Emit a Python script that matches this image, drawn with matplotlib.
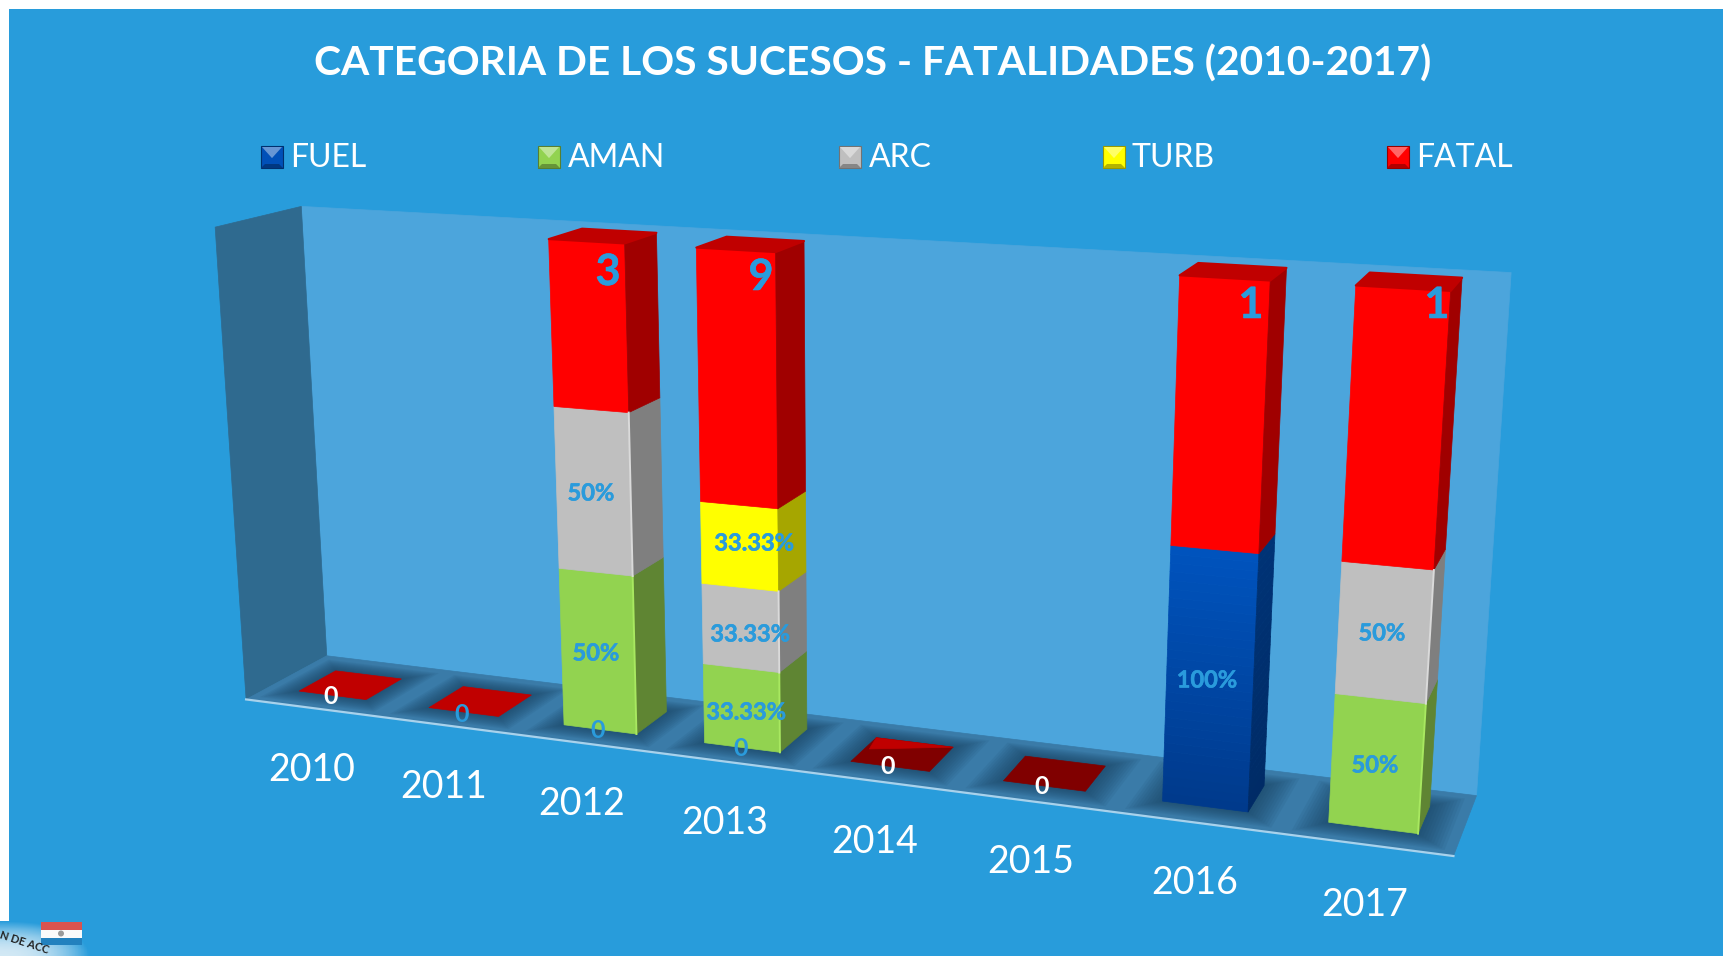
import numpy as np
import matplotlib
matplotlib.use('Agg')
import matplotlib.pyplot as plt
import matplotlib.patheffects as pe
from matplotlib.patches import Polygon, Rectangle, Circle
from matplotlib.colors import to_rgb, LinearSegmentedColormap

YEARS = ['2010', '2011', '2012', '2013', '2014', '2015', '2016', '2017']
SERIES = ['FUEL', 'AMAN', 'ARC', 'TURB', 'FATAL']
FUEL = [0, 0, 0, 0, 0, 0, 100, 0]
AMAN = [0, 0, 50, 33.33, 0, 0, 0, 50]
ARC = [0, 0, 50, 33.33, 0, 0, 0, 50]
TURB = [0, 0, 0, 33.33, 0, 0, 0, 0]
FATAL = [0, 0, 50, 100, 0, 0, 100, 100]
FATAL_COUNTS = [0, 0, 3, 9, 0, 0, 1, 1]
VALUES = [FUEL, AMAN, ARC, TURB, FATAL]

BG = '#289CDB'
LABEL = '#2A9BDC'
FACE = {'FUEL': '#0050B8', 'AMAN': '#92D350', 'ARC': '#BFBFBF', 'TURB': '#FFFF00', 'FATAL': '#FF0000'}
SIDE = {'FUEL': '#003070', 'AMAN': '#5F8533', 'ARC': '#7F7F7F', 'TURB': '#A6A600', 'FATAL': '#A00000'}
TOP = {'FUEL': '#003E90', 'AMAN': '#7AB040', 'ARC': '#A0A0A0', 'TURB': '#D0D000', 'FATAL': '#C00000'}
BEVEL = {'AMAN': '#A8E860', 'ARC': '#DADADA'}
GAP, D0, D1 = 0.24, 0.27, 0.73

# 3D view of the chart box: category axis 0..8, depth 0..1, stacked share 0..1
CAMERA = np.array([[122.867, 98.0561, -41.2536, 246.0935],
                   [3.0547, -8.768, -483.1762, 699.429],
                   [-0.0193, 0.0532, -0.0479, 1.0]])

def proj(x, y, z):
    h = CAMERA @ np.array([x, y, z, 1.0])
    return h[0]/h[2], h[1]/h[2]

def quad(ax, corners, color, z=3, **kw):
    p = Polygon([proj(*c) for c in corners], closed=True, facecolor=color, edgecolor=kw.pop('ec', color),
                linewidth=kw.pop('lw', 0.5), zorder=z, joinstyle='round', **kw)
    ax.add_patch(p)
    return p

fig = plt.figure(figsize=(17.23, 9.56), dpi=100, facecolor='white')
ax = fig.add_axes([0, 0, 1, 1])
ax.set_xlim(0, 1723); ax.set_ylim(956, 0); ax.axis('off')
plt.rcParams['font.family'] = ['Lato', 'DejaVu Sans']
ax.add_patch(Rectangle((9, 9), 1714, 947, facecolor=BG, edgecolor='none', zorder=0))

# walls and floor
quad(ax, [(0,1,0),(8,1,0),(8,1,1),(0,1,1)], '#4CA5DC', 1)
quad(ax, [(0,0,0),(0,1,0),(0,1,1),(0,0,1)], '#2F6A8F', 1)
floor = quad(ax, [(0,0,0),(8,0,0),(8,1,0),(0,1,0)], '#3A7BA8', 1)
ax.plot(*zip(proj(0,0,0), proj(8,0,0)), color='#A8D2EC', lw=1.6, zorder=1.5)
# soft shadows on the floor
for i in range(8):
    a, b = i+GAP, i+1-GAP
    for k in range(10, 0, -1):
        e = k*0.018
        s = quad(ax, [(a-e,D0-e*1.1,0),(b+e,D0-e*1.1,0),(b+e,D1+e*1.1,0),(a-e,D1+e*1.1,0)], '#173F5C', 1.6, alpha=0.085, lw=0, ec='none')
        s.set_clip_path(floor)

totals = np.sum(np.array(VALUES, float), axis=0)
FLAT = {0:'#C00000', 1:'#C00000', 4:'#800000', 5:'#800000'}
for i in range(8):
    a, b = i+GAP, i+1-GAP
    if totals[i] == 0:
        quad(ax, [(a,D0,0),(b,D0,0),(b,D1,0),(a,D1,0)], FLAT[i], 2)
        if i == 4:
            quad(ax, [(a,D1,0),(b,D1,0),(a+0.03,D0+0.25,0)], '#C00000', 2.1)
        continue
    base = 0.0
    zi = 3+i
    for name, vals in zip(SERIES, VALUES):
        v = vals[i]
        if v == 0:
            continue
        top = base + v/totals[i]
        if name == 'FUEL':
            n = 30
            c1, c2, s1, s2 = map(np.array, (to_rgb('#003A8C'), to_rgb('#0053BD'), to_rgb('#002B66'), to_rgb('#003376')))
            for j in range(n):
                z0 = base + (top-base)*j/n; z1 = base + (top-base)*(j+1)/n; t = j/(n-1)
                quad(ax, [(a,D0,z0),(b,D0,z0),(b,D0,z1),(a,D0,z1)], tuple(c1+(c2-c1)*t), zi)
                quad(ax, [(b,D0,z0),(b,D1,z0),(b,D1,z1),(b,D0,z1)], tuple(s1+(s2-s1)*t), zi)
        else:
            quad(ax, [(a,D0,base),(b,D0,base),(b,D0,top),(a,D0,top)], FACE[name], zi)
            quad(ax, [(b,D0,base),(b,D1,base),(b,D1,top),(b,D0,top)], SIDE[name], zi)
            if name in BEVEL:
                ax.plot(*zip(proj(b,D0,base), proj(b,D0,top)), color=BEVEL[name], lw=1.4, zorder=zi+0.1)
        base = top
        last = name
    quad(ax, [(a,D0,1),(b,D0,1),(b,D1,1),(a,D1,1)], TOP[last], zi, lw=1.5)

# text
ax.text(873, 64, 'CATEGORIA DE LOS SUCESOS - FATALIDADES (2010-2017)', color='white', fontsize=29.3,
        fontweight='bold', ha='center', va='center', zorder=20)
year_xy = [(312,770),(444,787),(582,804),(725,823),(875,842),(1031,862),(1195,883),(1365,905)]
for y, (px, py) in zip(YEARS, year_xy):
    ax.text(px, py, y, color='white', fontsize=27, ha='center', va='center', zorder=20)

fat = [pe.withStroke(linewidth=0.4, foreground=LABEL)]
zero_xy = [(331,696),(462,714),(598,731),(741,748),(888,767),(1042,786)]
zero_c = ['white', LABEL, LABEL, LABEL, 'white', 'white']
for (px, py), c in zip(zero_xy, zero_c):
    ax.text(px, py, '0', color=c, fontsize=18, fontweight='bold', ha='center', va='center', zorder=20)
pct = [('50%',591,493),('50%',596,653),('33.33%',754,543),('33.33%',750,634),('33.33%',746,712),
       ('100%',1207,680),('50%',1382,633),('50%',1375,765)]
for s, px, py in pct:
    ax.text(px, py, s, color=LABEL, fontsize=17, fontweight='bold', ha='center', va='center', zorder=20, path_effects=fat)
big = [(608,272),(761,277),(1251,305),(1437,305)]
for n, (px, py) in zip([c for c in FATAL_COUNTS if c], big):
    ax.text(px, py, str(n), color=LABEL, fontsize=31, fontweight='bold', ha='center', va='center', zorder=20, path_effects=fat)

# legend
leg_x = [261, 538, 839, 1103, 1387]
txt_x = [290, 568, 869, 1132, 1416]
def mix(c, t, f):
    c, t = np.array(to_rgb(c)), np.array(to_rgb(t))
    return tuple(c+(t-c)*f)
for name, lx, tx in zip(SERIES, leg_x, txt_x):
    s = 22; yy = 146; f = FACE[name]; cx, cy = lx+s/2, yy+s*0.55
    ax.add_patch(Rectangle((lx,yy), s, s, facecolor=f, edgecolor=mix(f,'black',0.4), lw=0.8, zorder=20))
    ax.add_patch(Polygon([(lx+1,yy+1),(lx+s-1,yy+1),(cx,cy)], facecolor=mix(f,'white',0.4), edgecolor='none', zorder=20.1))
    ax.add_patch(Polygon([(lx,yy+s),(lx+s,yy+s),(lx+s-4,yy+s-4),(lx+4,yy+s-4)], facecolor=mix(f,'black',0.3), edgecolor='none', zorder=20.1))
    ax.text(tx, yy+12, name, color='white', fontsize=23, ha='left', va='center', zorder=20)

# logo corner
cmap = LinearSegmentedColormap.from_list('g', [(0.82,0.91,0.96,1), (0.157,0.612,0.859,1)])
gx, gy = np.meshgrid(np.linspace(0,1,60), np.linspace(0,1,30))
ax.imshow(np.clip(gx**2.5+(1-gy)**2,0,1), cmap=cmap, extent=(0,90,956,921), aspect='auto', zorder=0.5, vmin=0, vmax=1)
ax.set_xlim(0, 1723); ax.set_ylim(956, 0)
ax.add_patch(Rectangle((41,922), 41, 8, facecolor='#D9534F', edgecolor='none', zorder=21))
ax.add_patch(Rectangle((41,930), 41, 7.5, facecolor='#FAFAFA', edgecolor='none', zorder=21))
ax.add_patch(Rectangle((41,937.5), 41, 7.5, facecolor='#2281BE', edgecolor='none', zorder=21))
ax.add_patch(Circle((61,933.5), 3, facecolor='#9A9A9A', edgecolor='none', zorder=21.1))
ax.text(24, 943, 'N DE ACC', color='#222222', fontsize=8, rotation=-18, ha='center', va='center', zorder=21, fontweight='bold')

fig.savefig('out.png', dpi=100, facecolor='white')
